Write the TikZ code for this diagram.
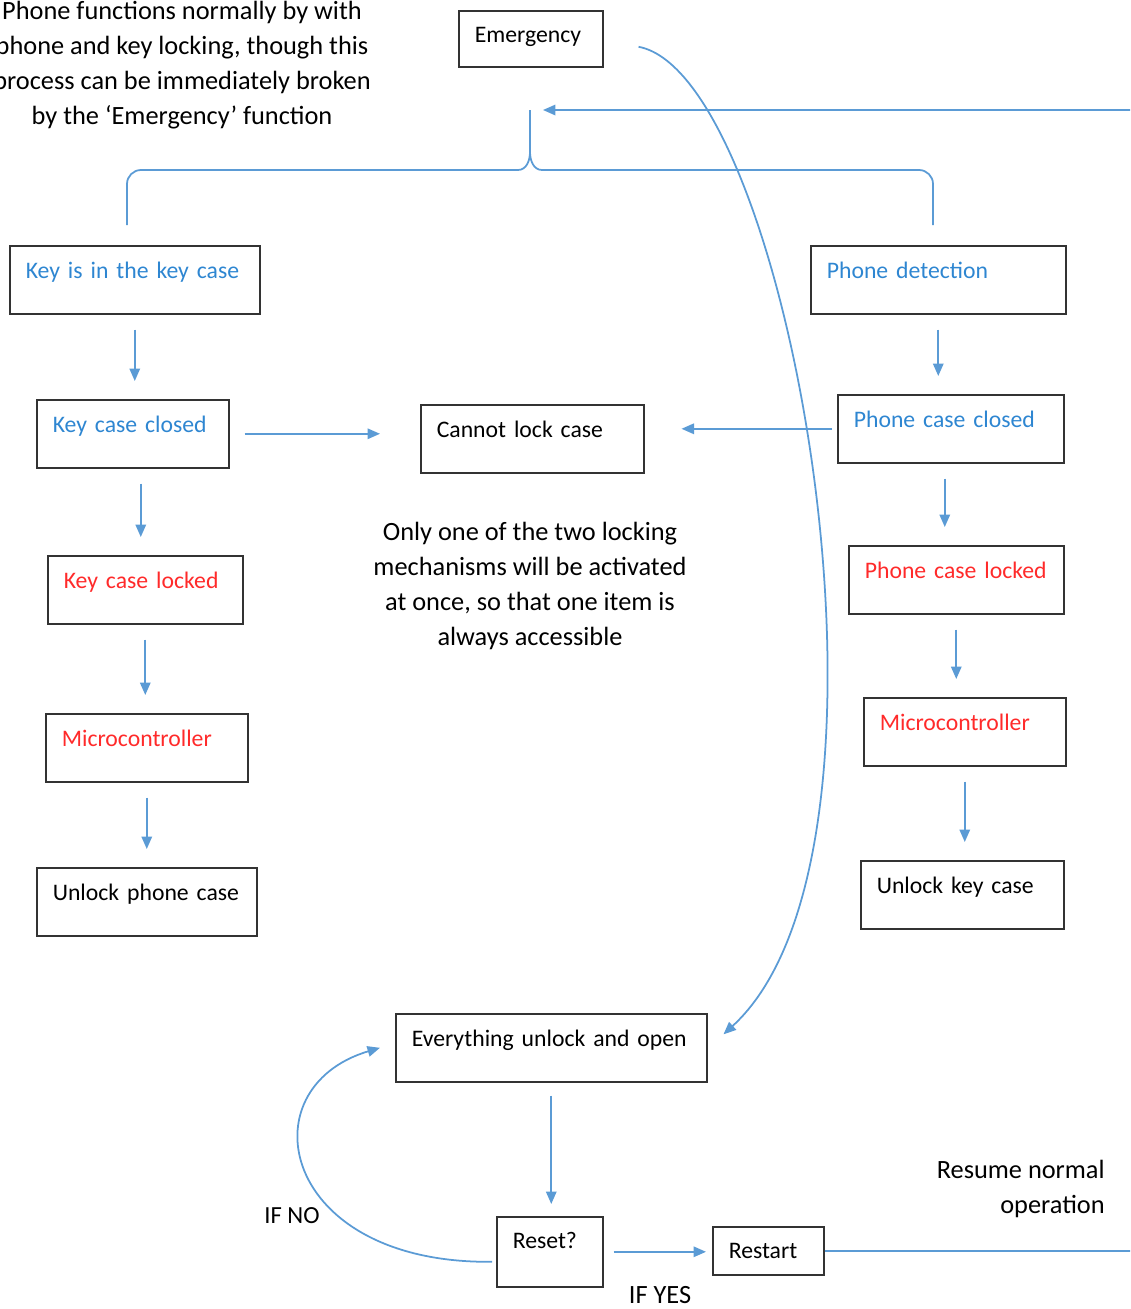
\documentclass[tikz,border=0pt]{standalone}
\usepackage{fontspec}
\setmainfont{Carlito}
\usetikzlibrary{calc, arrows.meta}
\definecolor{Sky}{HTML}{5B9BD5}
\definecolor{Ocean}{HTML}{2E86D1}
\definecolor{Alarm}{HTML}{FF2A2A}
\definecolor{Frame}{HTML}{333333}
\tikzset{
    stepbox/.style={draw=Frame, line width=0.9pt, anchor=north west, align=left,
        inner xsep=0.32cm, inner ysep=0pt, text height=0.66cm, text depth=0.7cm,
        font=\fontsize{13.5}{16}\selectfont},
    flow/.style={draw=Sky, line width=1pt, -{Triangle[length=0.25cm, width=0.21cm]},
        shorten <=0.3cm, shorten >=0.36cm},
    note/.style={align=center, inner sep=0pt, font=\fontsize{15}{19.9}\selectfont}
}

\begin{document}
\begin{tikzpicture}[x=0.02cm, y=-0.02cm]
    \clip (0,0) rectangle (1130,1309);

    % notes
    \node[note, anchor=north] (intro) at (182,1) {Phone functions normally by with\\
        phone and key locking, though this\\
        process can be immediately broken\\
        by the ‘Emergency’ function};
    \node[note, anchor=north] (onlyone) at (530,522) {Only one of the two locking\\
        mechanisms will be activated\\
        at once, so that one item is\\
        always accessible};
    \node[note, anchor=north east, align=right] (resume) at (1105,1160) {Resume normal\\operation};

    % boxes
    \node[stepbox, text width=2.24cm, text height=0.64cm, text depth=0.48cm] (emergency) at (458,10) {Emergency};
    \node[stepbox, text width=4.36cm, text=Ocean] (keyincase) at (9,245) {Key is in the key case};
    \node[stepbox, text width=4.46cm, text=Ocean] (phonedetect) at (810,245) {Phone detection};
    \node[stepbox, text width=3.2cm, text=Ocean] (keyclosed) at (36,399) {Key case closed};
    \node[stepbox, text width=3.82cm] (cannotlock) at (420,404) {Cannot lock case};
    \node[stepbox, text width=3.88cm, text=Ocean] (phoneclosed) at (837,394) {Phone case closed};
    \node[stepbox, text width=3.26cm, text=Alarm] (keylocked) at (47,555) {Key case locked};
    \node[stepbox, text width=3.66cm, text=Alarm] (phonelocked) at (848,545) {Phone case locked};
    \node[stepbox, text width=3.4cm, text=Alarm] (keymcu) at (45,713) {Microcontroller};
    \node[stepbox, text width=3.4cm, text=Alarm] (phonemcu) at (863,697) {Microcontroller};
    \node[stepbox, text width=3.76cm] (unlockphone) at (36,867) {Unlock phone case};
    \node[stepbox, text width=3.42cm] (unlockkey) at (860,860) {Unlock key case};
    \node[stepbox, text width=5.58cm] (unlockall) at (395,1013) {Everything unlock and open};
    \node[stepbox, text width=1.48cm, text height=0.64cm, text depth=0.76cm] (reset) at (496,1216) {Reset?};
    \node[stepbox, text width=1.58cm, text height=0.64cm, text depth=0.32cm] (restart) at (712,1226) {Restart};

    \node[note, anchor=base, font=\fontsize{14}{16}\selectfont] (ifno) at (292,1223) {IF NO};
    \node[note, anchor=base] (ifyes) at (660,1303) {IF YES};

    % brace joining both chains
    \coordinate (tip) at (530,110);
    \coordinate (edge) at (1170,0);
    \draw[Sky, line width=1pt] (127,225) -- (127,184) to[out=90, in=180] (141,170) -- (518,170)
        to[out=0, in=-90] (530,152) -- (tip) -- (530,152) to[out=-90, in=180] (542,170) -- (919,170)
        to[out=0, in=90] (933,184) -- (933,225);

    % left chain
    \draw[flow] (keyincase.south) -- (keyincase.south |- keyclosed.north);
    \draw[flow] ([xshift=0.16cm]keyclosed.south) -- ([xshift=0.16cm]keyclosed.south |- keylocked.north);
    \draw[flow] (keylocked.south) -- (keylocked.south |- keymcu.north);
    \draw[flow] (keymcu.south) -- (keymcu.south |- unlockphone.north);

    % right chain
    \draw[flow] (phonedetect.south) -- (phonedetect.south |- phoneclosed.north);
    \draw[flow] ([xshift=-0.12cm]phoneclosed.south) -- ([xshift=-0.12cm]phoneclosed.south |- phonelocked.north);
    \draw[flow] (phonelocked.south) -- (phonelocked.south |- phonemcu.north);
    \draw[flow] (phonemcu.south) -- (phonemcu.south |- unlockkey.north);

    % into the middle
    \draw[flow, shorten >=0.8cm] (keyclosed.east) -- (keyclosed.east -| cannotlock.west);
    \draw[flow, shorten <=0.1cm, shorten >=0.74cm] (phoneclosed.west) -- (phoneclosed.west -| cannotlock.east);

    % emergency
    \draw[flow, shorten <=0pt, shorten >=0pt] ([xshift=0.7cm, yshift=-0.16cm]emergency.east)
        .. controls (790,75) and (925,850) .. ([xshift=0.32cm, yshift=0.27cm]unlockall.east);

    % reset loop
    \draw[flow, shorten <=0.26cm, shorten >=0.24cm] (unlockall.south) -- (unlockall.south |- reset.north);
    \draw[flow, shorten <=0pt, shorten >=0pt] ([xshift=-0.08cm, yshift=-0.2cm]reset.west)
        .. controls (280,1264) and (245,1088) .. ([xshift=-0.3cm]unlockall.west);
    \draw[flow, shorten <=0.2cm, shorten >=0.12cm] (reset.east) -- (reset.east -| restart.west);
    \draw[flow, shorten <=0pt, shorten >=0pt] (restart.east) -- (restart.east -| edge) |- ([xshift=0.26cm]tip);
\end{tikzpicture}
\end{document}
